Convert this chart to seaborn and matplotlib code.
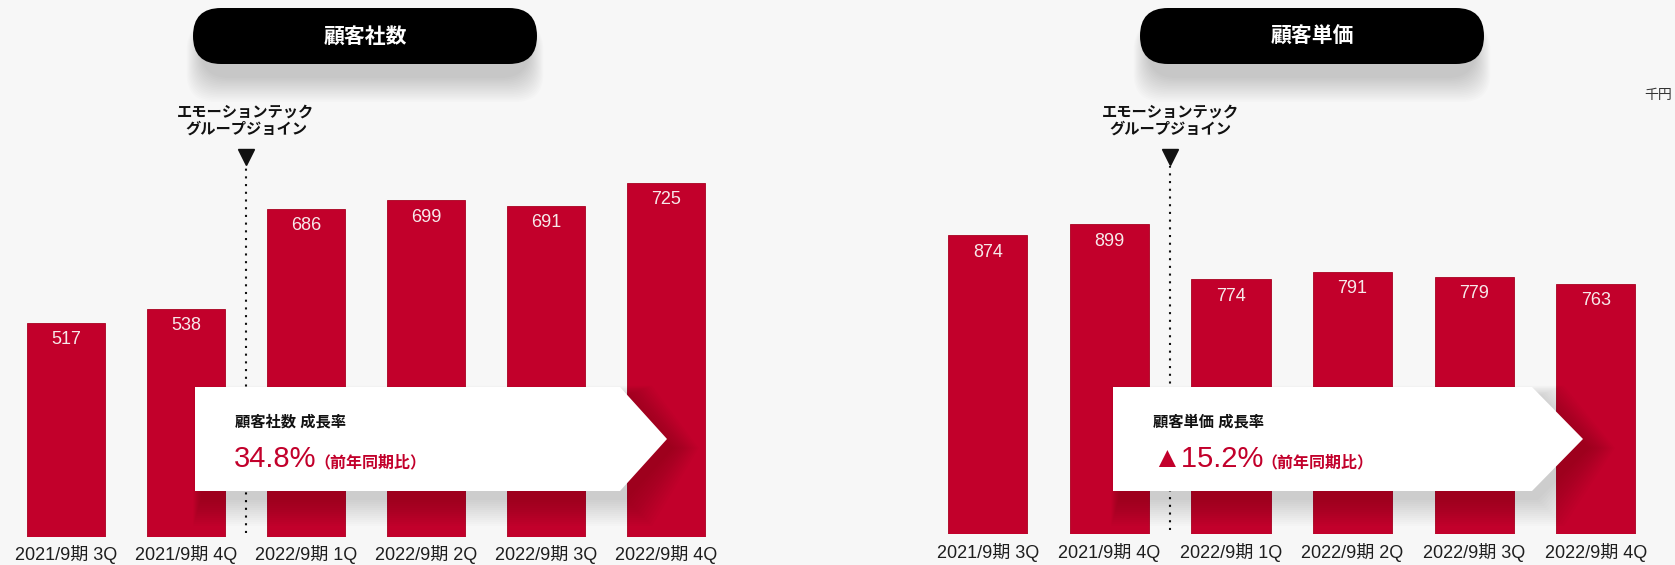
import matplotlib
matplotlib.use("Agg")
import matplotlib.pyplot as plt
import seaborn as sns
import pandas as pd
from matplotlib.patches import FancyBboxPatch, Polygon
from matplotlib.lines import Line2D
from matplotlib.transforms import IdentityTransform

# ---------------- data ----------------
periods = ["2021/9期 3Q", "2021/9期 4Q", "2022/9期 1Q", "2022/9期 2Q", "2022/9期 3Q", "2022/9期 4Q"]
customers = [517, 538, 686, 699, 691, 725]
unit_price = [874, 899, 774, 791, 779, 763]
titles = ["顧客社数", "顧客単価"]
callout_heads = ["顧客社数 成長率", "顧客単価 成長率"]
callout_values = ["34.8%", "▲15.2%"]
callout_note = "（前年同期比）"
event_label = "エモーションテック\nグループジョイン"
event_pos = 1.5
unit_label = "千円"

# ---------------- style ----------------
W, H = 1675, 565
sns.set_theme(style="white")
FONTS = ["Liberation Sans", "Noto Sans CJK JP", "DejaVu Sans"]
plt.rcParams["font.family"] = FONTS
BG = "#f7f7f7"
RED = "#c2002b"
PX = IdentityTransform()

fig = plt.figure(figsize=(W / 100, H / 100), dpi=100, facecolor=BG)


def py(y):
    return H - y


panels = [
    dict(vals=customers, left=6, bottom=537, width=720, top=100, ylim=(200, 848),
         pill_cx=365, box=(195, 620, 667), text_x=235),
    dict(vals=unit_price, left=927, bottom=534.3, width=729.6, top=100, ylim=(196, 1181),
         pill_cx=1312, box=(1113, 1532, 1583), text_x=1153),
]

fig.canvas.draw()
renderer = fig.canvas.get_renderer()

for k, p in enumerate(panels):
    ax = fig.add_axes([p["left"] / W, (H - p["bottom"]) / H, p["width"] / W,
                       (p["bottom"] - p["top"]) / H])
    ax.set_facecolor("none")
    df = pd.DataFrame({"period": periods, "value": p["vals"]})
    sns.barplot(data=df, x="period", y="value", ax=ax, color=RED, width=0.65,
                saturation=1, edgecolor="#a9001f", linewidth=0.6, zorder=2)
    ax.set_xlim(-0.5, 5.5)
    ax.set_ylim(*p["ylim"])
    for s in ax.spines.values():
        s.set_visible(False)
    ax.set_yticks([])
    ax.set_xlabel("")
    ax.set_ylabel("")
    ax.tick_params(axis="x", length=0, pad=6, labelsize=13, labelcolor="#1e1e1e")
    for i, v in enumerate(p["vals"]):
        ax.annotate(f"{v}", (i, v), xytext=(0, -12), textcoords="offset points",
                    ha="center", va="center", fontsize=13, color="#f7e9ea", zorder=3)

    # dotted event line
    frac = (p["bottom"] - 166) / (p["bottom"] - p["top"])
    ax.axvline(event_pos, ymin=0.01, ymax=frac, color="#111111", lw=1.5,
               linestyle=(0, (1, 2.7)), zorder=1)
    ex = ax.transData.transform((event_pos, p["ylim"][0]))[0]
    fig.add_artist(Line2D([ex], [py(157)], marker="v", ms=11, color="#111111",
                          transform=PX, zorder=5))
    fig.text(ex, py(121), event_label, transform=PX, ha="center", va="center",
             fontsize=11, fontweight="bold", color="#111111", linespacing=1.25, zorder=5)

    # title pill with soft shadow below
    cx, cy, pw, ph = p["pill_cx"], 36, 344, 56
    for i in range(16):
        g = i * 1.6
        gx = g * 0.6
        fig.add_artist(FancyBboxPatch((cx - pw / 2 - gx + 8, py(cy + ph / 2) - 14 - g),
                                      pw + 2 * gx - 16, ph + g,
                                      boxstyle=f"round,pad=0,rounding_size={ph / 2}",
                                      fc="black", ec="none", alpha=0.013,
                                      transform=PX, zorder=4))
    fig.add_artist(FancyBboxPatch((cx - pw / 2, py(cy + ph / 2)), pw, ph,
                                  boxstyle=f"round,pad=0,rounding_size={ph / 2}",
                                  fc="black", ec="none", transform=PX, zorder=5))
    fig.text(cx, py(cy + 1), titles[k], transform=PX, ha="center", va="center",
             fontsize=15, fontweight="bold", color="white", zorder=6)

    # callout box (arrow shape) with shadow
    x0, x1, tip = p["box"]
    yt, yb, ym = 387, 491, 439
    for i in range(14):
        g = i * 2.0
        dx, dy = 6, 9
        pts = [(x0 + dx - g * 0.3, py(yt + dy - g * 0.4)), (x1 + dx + g, py(yt + dy - g * 0.4)),
               (tip + dx + g, py(ym + dy)), (x1 + dx + g, py(yb + dy + g)),
               (x0 + dx - g * 0.3, py(yb + dy + g))]
        fig.add_artist(Polygon(pts, closed=True, fc="black", ec="none", alpha=0.012,
                               transform=PX, zorder=6))
    pts = [(x0, py(yt)), (x1, py(yt)), (tip, py(ym)), (x1, py(yb)), (x0, py(yb))]
    fig.add_artist(Polygon(pts, closed=True, fc="white", ec="none", transform=PX, zorder=7))
    tx = p["text_x"]
    fig.text(tx, py(422), callout_heads[k], transform=PX, ha="left", va="center",
             fontsize=11, fontweight="bold", color="#111111", zorder=8)
    tv = fig.text(tx - 1, py(467), callout_values[k], transform=PX, ha="left",
                  va="baseline", fontsize=21, color=RED, zorder=8)
    bb = tv.get_window_extent(renderer=renderer)
    fig.text(bb.x1 - 2, py(467), callout_note, transform=PX, ha="left", va="baseline",
             fontsize=11.5, fontweight="bold", color=RED, zorder=8)

fig.text(1672, py(95), unit_label, transform=PX, ha="right", va="center",
         fontsize=10, color="#333333", zorder=5)

fig.savefig("out.png", dpi=100, facecolor=BG)
